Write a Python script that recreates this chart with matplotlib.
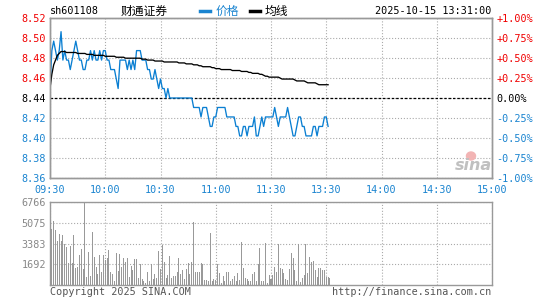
import matplotlib
matplotlib.use('Agg')
import matplotlib.pyplot as plt
from matplotlib.patches import Ellipse
import numpy as np

# minute data 09:30 .. 13:31
price = [8.45, 8.49, 8.50, 8.49, 8.48, 8.49, 8.51, 8.48, 8.49, 8.48,
         8.48, 8.47, 8.48, 8.49, 8.50, 8.49, 8.48, 8.48, 8.47, 8.47,
         8.48, 8.48, 8.49, 8.48, 8.49, 8.48, 8.48, 8.49, 8.48, 8.49,
         8.49, 8.48, 8.48, 8.47, 8.47, 8.47, 8.46, 8.45, 8.48, 8.48,
         8.48, 8.48, 8.47, 8.48, 8.47, 8.48, 8.47, 8.49, 8.49, 8.49,
         8.48, 8.48, 8.48, 8.47, 8.47, 8.46, 8.46, 8.47, 8.46, 8.45,
         8.46, 8.45, 8.45, 8.44, 8.45, 8.44, 8.44, 8.44, 8.44, 8.44,
         8.44, 8.44, 8.44, 8.44, 8.44, 8.44, 8.44, 8.44, 8.43, 8.43,
         8.43, 8.43, 8.42, 8.43, 8.43, 8.43, 8.42, 8.41, 8.41, 8.42,
         8.42, 8.43, 8.43, 8.43, 8.43, 8.43, 8.42, 8.42, 8.42, 8.42,
         8.42, 8.41, 8.41, 8.40, 8.40, 8.41, 8.41, 8.40, 8.41, 8.41,
         8.41, 8.42, 8.40, 8.40, 8.41, 8.42, 8.41, 8.42, 8.42, 8.42,
         8.42, 8.42, 8.43, 8.42, 8.41, 8.42, 8.42, 8.42, 8.42, 8.43,
         8.42, 8.41, 8.40, 8.40, 8.41, 8.42, 8.42, 8.41, 8.41, 8.40,
         8.40, 8.40, 8.40, 8.41, 8.41, 8.40, 8.41, 8.41, 8.41, 8.42,
         8.42, 8.41]

avg = [8.450, 8.465, 8.475, 8.480, 8.485, 8.487, 8.489, 8.489, 8.489, 8.488,
       8.488, 8.488, 8.488, 8.488, 8.488, 8.487, 8.487, 8.487, 8.487, 8.487,
       8.486, 8.486, 8.486, 8.486, 8.485, 8.485, 8.485, 8.485, 8.485, 8.485,
       8.484, 8.484, 8.484, 8.484, 8.484, 8.484, 8.483, 8.483, 8.483, 8.483,
       8.483, 8.482, 8.482, 8.482, 8.482, 8.482, 8.482, 8.482, 8.482, 8.482,
       8.481, 8.481, 8.481, 8.480, 8.480, 8.480, 8.480, 8.479, 8.479, 8.479,
       8.479, 8.479, 8.478, 8.478, 8.478, 8.478, 8.478, 8.478, 8.478, 8.478,
       8.477, 8.477, 8.477, 8.477, 8.476, 8.476, 8.476, 8.476, 8.475, 8.475,
       8.475, 8.474, 8.474, 8.473, 8.473, 8.473, 8.473, 8.473, 8.472, 8.472,
       8.471, 8.471, 8.471, 8.470, 8.470, 8.470, 8.470, 8.470, 8.470, 8.469,
       8.469, 8.469, 8.469, 8.469, 8.468, 8.468, 8.468, 8.468, 8.467, 8.467,
       8.466, 8.466, 8.466, 8.466, 8.465, 8.465, 8.464, 8.463, 8.463, 8.462,
       8.462, 8.462, 8.462, 8.462, 8.462, 8.461, 8.460, 8.460, 8.460, 8.460,
       8.460, 8.460, 8.460, 8.459, 8.458, 8.458, 8.458, 8.458, 8.458, 8.457,
       8.456, 8.456, 8.456, 8.456, 8.456, 8.455, 8.454, 8.454, 8.454, 8.454,
       8.454, 8.454]

volume = [1218, 4600, 5195, 4465, 3572, 4194, 3572, 4060, 3383, 3112,
          1760, 3166, 1760, 4060, 1407, 1488, 2435, 2922, 1300, 6766,
          676, 2652, 758, 4330, 2300, 1488, 920, 2435, 1028, 2435,
          2030, 2165, 2841, 1082, 866, 325, 2570, 1136, 2490, 1488,
          2165, 1840, 2165, 676, 1570, 1218, 2110, 2110, 541, 1700,
          500, 300, 200, 1100, 300, 1700, 500, 900, 600, 2800,
          1300, 3300, 1900, 600, 800, 2400, 600, 700, 700, 1100,
          2200, 900, 1200, 500, 1300, 1800, 900, 1900, 5100, 1100,
          1100, 1100, 1800, 1700, 400, 400, 300, 4200, 300, 500,
          400, 1700, 1000, 200, 700, 300, 1100, 1100, 300, 500,
          700, 300, 1000, 400, 3500, 1400, 600, 500, 300, 300,
          900, 1100, 300, 1700, 3000, 300, 300, 3400, 200, 800,
          460, 812, 1434, 1082, 3383, 1353, 1272, 947, 460, 406,
          1272, 2625, 2165, 1218, 352, 3383, 271, 541, 812, 3383,
          947, 2300, 1894, 1948, 1218, 622, 1353, 1353, 1218, 1218,
          622, 622, 541]

prev_close = 8.44
pct_steps = [-1.0, -0.75, -0.5, -0.25, 0.0, 0.25, 0.5, 0.75, 1.0]
price_labels = ['8.36', '8.38', '8.40', '8.42', '8.44', '8.46', '8.48', '8.50', '8.52']
pct_labels = ['-1.00%', '-0.75%', '-0.50%', '-0.25%', '0.00%',
              '+0.25%', '+0.50%', '+0.75%', '+1.00%']
time_labels = ['09:30', '10:00', '10:30', '11:00', '11:30', '13:30', '14:00', '14:30', '15:00']
vol_ticks = [1692, 3383, 5075, 6766]

RED = '#f00000'
BLUE = '#1a84d0'
GRAY = '#999999'
mono = 'DejaVu Sans Mono'
cjk = ['Noto Sans CJK SC', 'DejaVu Sans']

W, H = 545, 300
fig = plt.figure(figsize=(W / 100, H / 100), dpi=100)

def box(l, t, r, b):
    return [l / W, 1 - b / H, (r - l) / W, (b - t) / H]

ax = fig.add_axes(box(50, 18, 492, 178))
axv = fig.add_axes(box(50, 202, 492, 285))

x = np.arange(len(price))
ax.plot(x, price, color='#0a7fd2', lw=0.95, zorder=3)
ax.plot(x, avg, color='black', lw=0.95, zorder=3)
ax.axhline(prev_close, color='black', lw=0.9, dashes=(2, 1.5), zorder=2)

yt = [prev_close * (1 + p / 100) for p in pct_steps]
ax.set_xlim(0, 240)
ax.set_ylim(yt[0], yt[-1])
ax.set_yticks(yt)
ax.set_yticklabels(price_labels, fontfamily=mono, fontsize=7.3)
ax.set_xticks(range(0, 241, 30))
ax.set_xticklabels(time_labels, fontfamily=mono, fontsize=7.3, color=BLUE)
ax.tick_params(length=0, pad=3)
ax.tick_params(axis='x', pad=5)
ax.grid(True, ls=':', color='#aaaaaa', lw=0.8)
for lab, p in zip(ax.get_yticklabels(), pct_steps):
    lab.set_color(RED if p > 0 else (BLUE if p < 0 else 'black'))

axr = ax.twinx()
axr.set_ylim(ax.get_ylim())
axr.set_yticks(yt)
axr.set_yticklabels(pct_labels, fontfamily=mono, fontsize=7.3)
axr.tick_params(length=0, pad=3)
for lab, p in zip(axr.get_yticklabels(), pct_steps):
    lab.set_color(RED if p > 0 else (BLUE if p < 0 else 'black'))

axv.bar(np.arange(len(volume)), volume, width=0.55, color=GRAY, zorder=3)
axv.set_xlim(0, 240)
axv.set_ylim(0, 6766)
axv.set_yticks(vol_ticks)
axv.set_yticklabels([str(v) for v in vol_ticks], fontfamily=mono, fontsize=7.3, color='#888888')
axv.set_xticks(range(0, 241, 30))
axv.set_xticklabels([])
axv.tick_params(length=0, pad=3)
axv.grid(True, ls=':', color='#aaaaaa', lw=0.8)

for a in (ax, axr, axv):
    for s in a.spines.values():
        s.set_color(GRAY)
        s.set_linewidth(1.0)

def ftext(px, py, s, **kw):
    fig.text(px / W, 1 - py / H, s, va='center', **kw)

ftext(50, 11, 'sh601108', fontfamily=mono, fontsize=7.3, color='black')
ftext(144, 11, '财通证券', family=cjk, fontsize=8.5, color='black', ha='center')
fig.add_artist(plt.Line2D([200 / W, 210 / W], [1 - 11 / H] * 2, color=BLUE, lw=2.5))
ftext(216, 11, '价格', family=cjk, fontsize=8.5, color=BLUE)
fig.add_artist(plt.Line2D([250 / W, 260 / W], [1 - 11 / H] * 2, color='black', lw=2.5))
ftext(265, 11, '均线', family=cjk, fontsize=8.5, color='black')
ftext(491, 11, '2025-10-15 13:31:00', fontfamily=mono, fontsize=7.3, color='black', ha='right')
ftext(50, 292, 'Copyright 2025 SINA.COM', fontfamily=mono, fontsize=7.3, color='#555555')
ftext(491, 292, 'http://finance.sina.com.cn', fontfamily=mono, fontsize=7.3, color='#555555', ha='right')

# watermark
fig.add_artist(Ellipse((471 / W, 1 - 156 / H), 9 / W, 8 / H, color='#f2b4b4',
                       transform=fig.transFigure, zorder=2))
ftext(473, 166, 'sina', fontfamily='DejaVu Sans', fontsize=11.5, fontstyle='italic',
      fontweight='bold', color='#c0c0c0', ha='center', zorder=3)

fig.savefig('out.png', dpi=100)
